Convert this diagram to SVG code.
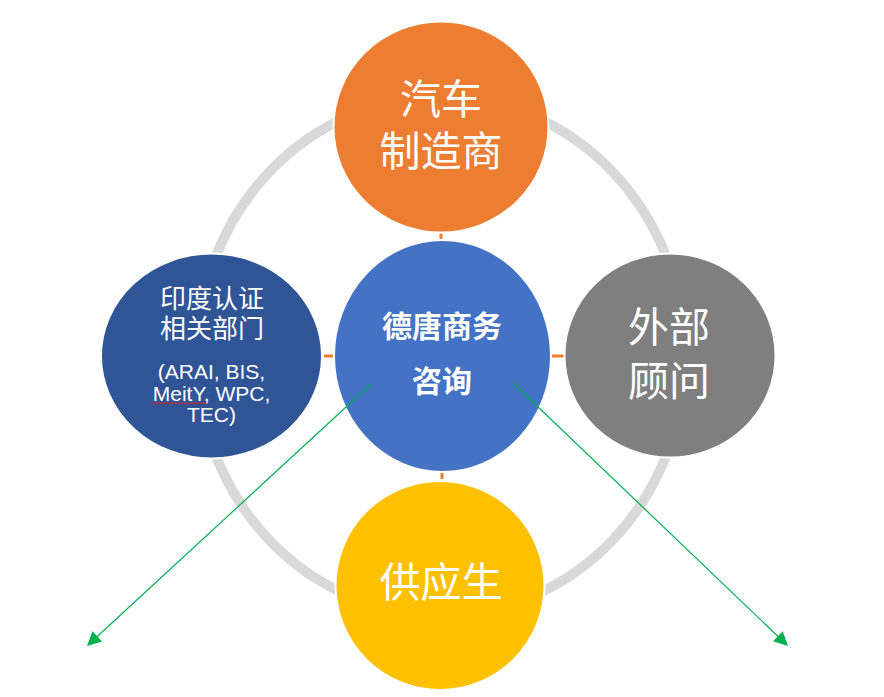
<svg xmlns="http://www.w3.org/2000/svg" width="884" height="697" viewBox="0 0 884 697">
  <style>
    .node { stroke: #ffffff; stroke-width: 2; }
    .cjk { font-family: "Noto Sans CJK SC", "Noto Sans", sans-serif; fill: #ffffff; text-anchor: middle; }
    .lat { font-family: "Liberation Sans", Arial, sans-serif; fill: #ffffff; text-anchor: middle; font-size: 21px; }
    .tick { stroke: #ED7D31; stroke-width: 3; fill: none; }
    .arrow { stroke: #00B050; stroke-width: 1.2; fill: none; marker-end: url(#ah); }
  </style>
  <defs>
    <marker id="ah" viewBox="0 0 10 10" refX="9" refY="5" markerWidth="16" markerHeight="14" markerUnits="userSpaceOnUse" orient="auto">
      <path d="M0,0 L10,5 L0,10 Z" fill="#00B050"/>
    </marker>
  </defs>
  <rect width="884" height="697" fill="#ffffff"/>
  <ellipse id="ring" cx="441" cy="356" rx="244" ry="259" fill="none" stroke="#D9D9D9" stroke-width="10"/>
  <g id="connectors">
    <line class="tick" x1="441" y1="233.5" x2="441" y2="239"/>
    <line class="tick" x1="324" y1="356" x2="333" y2="356"/>
    <line class="tick" x1="551" y1="356" x2="564" y2="356"/>
    <line class="tick" x1="442" y1="472" x2="442" y2="479"/>
  </g>
  <g id="node-oem">
    <ellipse class="node" cx="441" cy="127" rx="107.5" ry="105.5" fill="#ED7D31"/>
    <text class="cjk" x="441" y="114" font-size="41">汽车</text>
    <text class="cjk" x="441" y="166" font-size="41">制造商</text>
  </g>
  <g id="node-gov">
    <ellipse class="node" cx="211.5" cy="356" rx="110.5" ry="102.5" fill="#2F5597"/>
    <text class="cjk" x="212" y="308" font-size="26">印度认证</text>
    <text class="cjk" x="212" y="338" font-size="26">相关部门</text>
    <text class="lat" x="211.5" y="379">(ARAI, BIS,</text>
    <text class="lat" x="211.5" y="401">MeitY, WPC,</text>
    <text class="lat" x="211.5" y="422">TEC)</text>
    <path d="M152,404 l2,-1.5 l2,1.5 l2,-1.5 l2,1.5 l2,-1.5 l2,1.5 l2,-1.5 l2,1.5 l2,-1.5 l2,1.5 l2,-1.5 l2,1.5 l2,-1.5 l2,1.5 l2,-1.5 l2,1.5 l2,-1.5 l2,1.5 l2,-1.5 l2,1.5 l2,-1.5 l2,1.5 l2,-1.5 l2,1.5 l2,-1.5 l2,1.5 l2,-1.5" fill="none" stroke="#E02020" stroke-width="1"/>
  </g>
  <g id="node-consult">
    <ellipse class="node" cx="670" cy="355.5" rx="105.5" ry="102" fill="#7F7F7F"/>
    <text class="cjk" x="669" y="342" font-size="41">外部</text>
    <text class="cjk" x="669" y="396" font-size="41">顾问</text>
  </g>
  <g id="node-supplier">
    <ellipse class="node" cx="440" cy="585.5" rx="104.5" ry="104.5" fill="#FFC000"/>
    <text class="cjk" x="441" y="597" font-size="41">供应生</text>
  </g>
  <g id="node-center">
    <ellipse class="node" cx="442.5" cy="356" rx="108.5" ry="116" fill="#4472C4"/>
    <text class="cjk" x="442" y="337" font-size="30" font-weight="bold">德唐商务</text>
    <text class="cjk" x="442" y="392" font-size="30" font-weight="bold">咨询</text>
  </g>
  <g id="arrows">
    <line class="arrow" x1="371" y1="384" x2="88" y2="645"/>
    <line class="arrow" x1="513" y1="383" x2="787" y2="645"/>
  </g>
</svg>
